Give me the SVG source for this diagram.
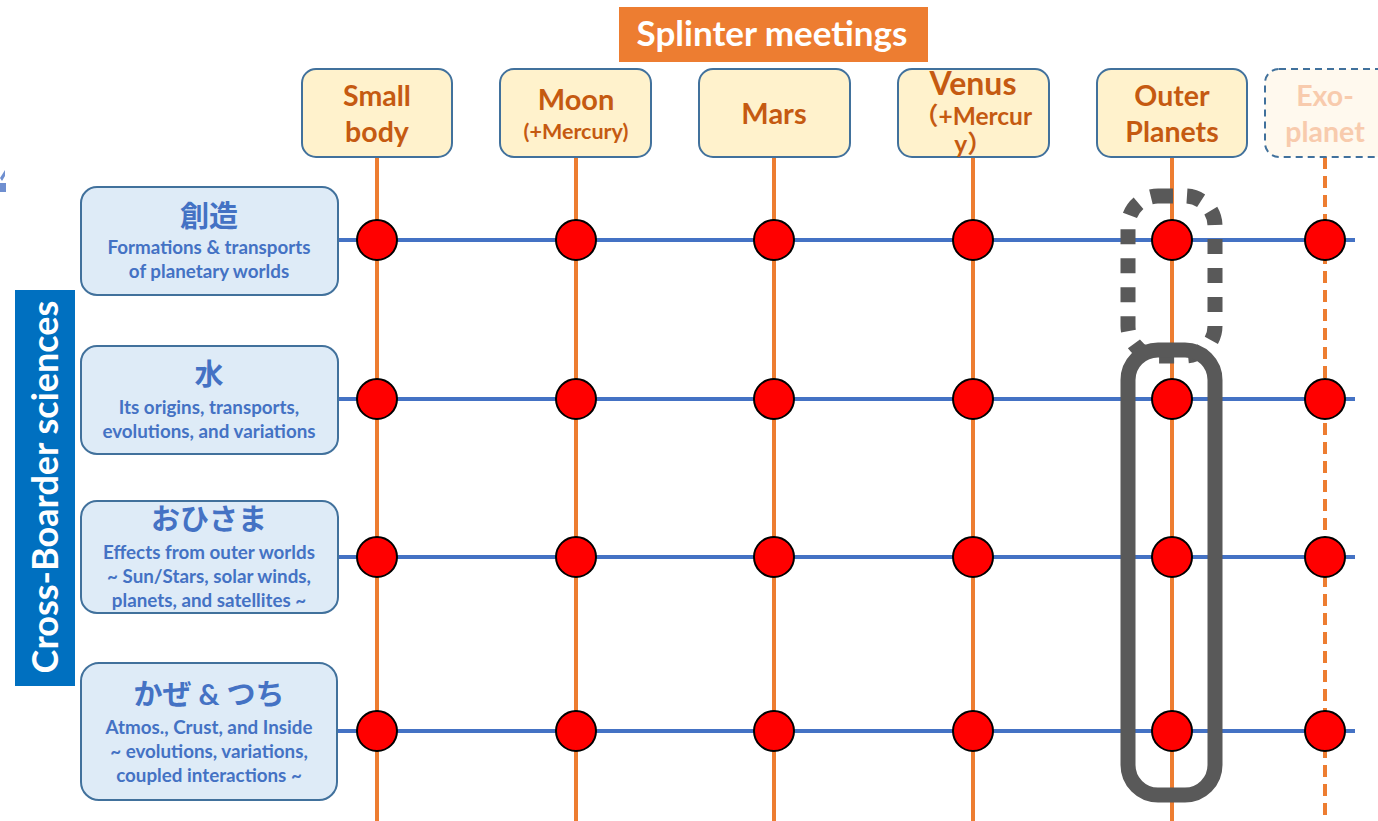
<svg xmlns="http://www.w3.org/2000/svg" width="1378" height="821" viewBox="0 0 1378 821">
<style>
.col{fill:#FFF2CC;stroke:#41719C;stroke-width:2}
.ct{font-family:Lato,"Noto Sans","Noto Sans CJK JP",sans-serif;font-weight:bold;fill:#C55A11;text-anchor:middle}
.row{fill:#DEEBF7;stroke:#41719C;stroke-width:2}
.rt{font-family:Lato,"Noto Sans","Noto Sans CJK JP",sans-serif;font-weight:bold;fill:#4472C4;text-anchor:middle}
.rh{font-size:29px}
.rs{font-size:18.8px}
.vl{stroke:#ED7D31;stroke-width:4}
.hl{stroke:#4472C4;stroke-width:4}
.dot{fill:#FF0000;stroke:#000;stroke-width:2}
</style>
<rect width="1378" height="821" fill="#fff"/>
<path d="M0 178 L5 170 L5 176 L2 181 Z M0 183 H6 V192 H0 Z" fill="#6F8FD0"/>
<g id="title">
<rect x="619" y="7" width="309" height="55" fill="#ED7D31"/>
<text x="772" y="46" font-family="Lato,'Noto Sans',sans-serif" font-weight="bold" font-size="35" fill="#fff" text-anchor="middle">Splinter meetings</text>
</g>
<g id="connectors">
<line class="vl" x1="377" y1="157" x2="377" y2="821"/>
<line class="vl" x1="576" y1="157" x2="576" y2="821"/>
<line class="vl" x1="774" y1="157" x2="774" y2="821"/>
<line class="vl" x1="973" y1="157" x2="973" y2="821"/>
<line class="vl" x1="1172" y1="157" x2="1172" y2="821"/>
<line class="vl" x1="1325" y1="157" x2="1325" y2="821" stroke-dasharray="12 7"/>
<line class="hl" x1="338" y1="240" x2="1355" y2="240"/>
<line class="hl" x1="338" y1="399" x2="1355" y2="399"/>
<line class="hl" x1="338" y1="557" x2="1355" y2="557"/>
<line class="hl" x1="338" y1="731" x2="1355" y2="731"/>
</g>
<g id="col-small"><rect class="col" x="302" y="69" width="150" height="88" rx="14"/>
<text class="ct" x="377" y="106" font-size="28.5">Small</text><text class="ct" x="377" y="142" font-size="28.5">body</text></g>
<g id="col-moon"><rect class="col" x="500" y="69" width="151" height="88" rx="14"/>
<text class="ct" x="576" y="110" font-size="29">Moon</text><text class="ct" x="576" y="139" font-size="21.5">(+Mercury)</text></g>
<g id="col-mars"><rect class="col" x="699" y="69" width="151" height="88" rx="14"/>
<text class="ct" x="774" y="124" font-size="29">Mars</text></g>
<g id="col-venus"><rect class="col" x="898" y="69" width="151" height="88" rx="14"/>
<text class="ct" x="973" y="95" font-size="32">Venus</text><text class="ct" x="973" y="125" font-size="24.5">（+Mercur</text><text class="ct" x="973" y="153" font-size="24.5">y）</text></g>
<g id="col-outer"><rect class="col" x="1097" y="69" width="150" height="88" rx="14"/>
<text class="ct" x="1172" y="106" font-size="28.5">Outer</text><text class="ct" x="1172" y="142" font-size="28.5">Planets</text></g>
<g id="col-exo"><rect x="1265" y="69" width="150" height="88" rx="14" fill="#FFF9EE" stroke="#41719C" stroke-width="2" stroke-dasharray="7 5"/>
<text class="ct" x="1325" y="106" font-size="28.5" style="fill:#F8CBAD">Exo-</text><text class="ct" x="1325" y="142" font-size="28.5" style="fill:#F8CBAD">planet</text></g>
<g id="cross-label"><rect x="15" y="290" width="60" height="396" fill="#0070C0"/>
<text x="0" y="0" transform="translate(58 487) rotate(-90)" font-family="Lato,'Noto Sans',sans-serif" font-weight="bold" font-size="36" fill="#fff" text-anchor="middle">Cross-Boarder sciences</text></g>
<g id="row-sozo"><rect class="row" x="81" y="187" width="257" height="108" rx="16"/>
<text class="rt rh" x="209" y="227">創造</text>
<text class="rt rs" x="209" y="254">Formations &amp; transports</text>
<text class="rt rs" x="209" y="278">of planetary worlds</text></g>
<g id="row-mizu"><rect class="row" x="81" y="346" width="257" height="108" rx="16"/>
<text class="rt rh" x="209" y="385">水</text>
<text class="rt rs" x="209" y="414">Its origins, transports,</text>
<text class="rt rs" x="209" y="438">evolutions, and variations</text></g>
<g id="row-ohisama"><rect class="row" x="81" y="501" width="257" height="112" rx="16"/>
<text class="rt rh" x="209" y="530">おひさま</text>
<text class="rt rs" x="209" y="559">Effects from outer worlds</text>
<text class="rt rs" x="209" y="583">~ Sun/Stars, solar winds,</text>
<text class="rt rs" x="209" y="607">planets, and satellites ~</text></g>
<g id="row-kaze"><rect class="row" x="81" y="663" width="256" height="137" rx="18"/>
<text class="rt rh" x="209" y="705">かぜ &amp; つち</text>
<text class="rt rs" x="209" y="734">Atmos., Crust, and Inside</text>
<text class="rt rs" x="209" y="758">~ evolutions, variations,</text>
<text class="rt rs" x="209" y="782">coupled interactions ~</text></g>
<g id="dots">
<circle class="dot" cx="377" cy="240" r="20"/><circle class="dot" cx="576" cy="240" r="20"/><circle class="dot" cx="774" cy="240" r="20"/><circle class="dot" cx="973" cy="240" r="20"/><circle class="dot" cx="1172" cy="240" r="20"/><circle class="dot" cx="1325" cy="240" r="20"/>
<circle class="dot" cx="377" cy="399" r="20"/><circle class="dot" cx="576" cy="399" r="20"/><circle class="dot" cx="774" cy="399" r="20"/><circle class="dot" cx="973" cy="399" r="20"/><circle class="dot" cx="1172" cy="399" r="20"/><circle class="dot" cx="1325" cy="399" r="20"/>
<circle class="dot" cx="377" cy="557" r="20"/><circle class="dot" cx="576" cy="557" r="20"/><circle class="dot" cx="774" cy="557" r="20"/><circle class="dot" cx="973" cy="557" r="20"/><circle class="dot" cx="1172" cy="557" r="20"/><circle class="dot" cx="1325" cy="557" r="20"/>
<circle class="dot" cx="377" cy="731" r="20"/><circle class="dot" cx="576" cy="731" r="20"/><circle class="dot" cx="774" cy="731" r="20"/><circle class="dot" cx="973" cy="731" r="20"/><circle class="dot" cx="1172" cy="731" r="20"/><circle class="dot" cx="1325" cy="731" r="20"/>
</g>
<g id="highlight-dotted"><rect x="1128" y="196" width="87" height="160" rx="30" fill="none" stroke="#595959" stroke-width="15" stroke-dasharray="15 14"/></g>
<g id="highlight-solid"><rect x="1128" y="350" width="87" height="445" rx="30" fill="none" stroke="#595959" stroke-width="15"/></g>
</svg>
